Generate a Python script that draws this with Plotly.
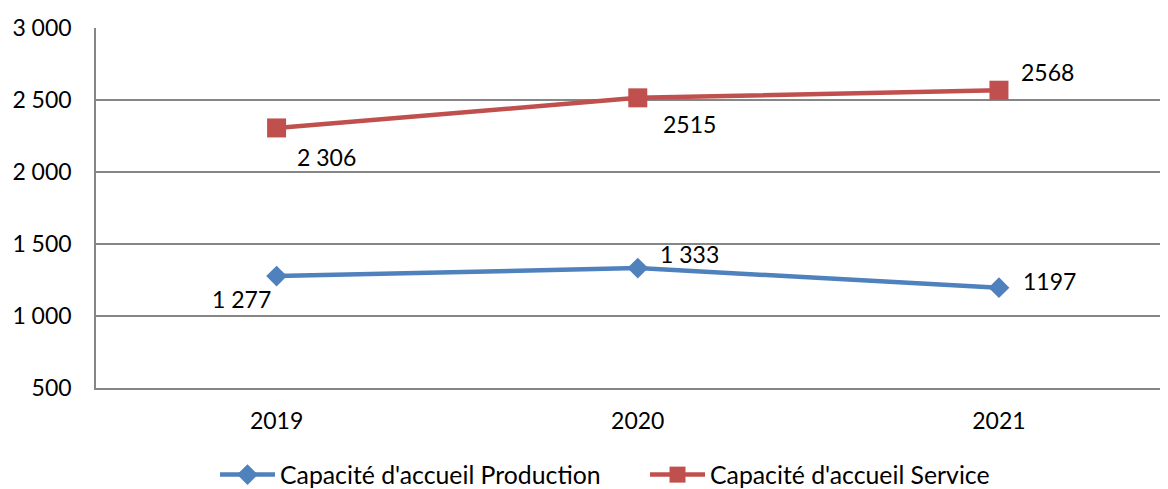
import plotly.graph_objects as go

years = ["2019", "2020", "2021"]
production = [1277, 1333, 1197]
service = [2306, 2515, 2568]
production_labels = ["1 277", "1 333", "1197"]
service_labels = ["2 306", "2515", "2568"]
y_ticks = [500, 1000, 1500, 2000, 2500, 3000]
y_ticktext = ["500", "1 000", "1 500", "2 000", "2 500", "3 000"]

BLUE = "#4F81BD"
RED = "#C0504D"
FONT = "Lato"
FS = 22

fig = go.Figure()
fig.add_trace(go.Scatter(
    x=years, y=production, mode="lines+markers",
    name="Capacité d'accueil Production",
    line=dict(color=BLUE, width=4.5),
    marker=dict(symbol="diamond", size=16, color=BLUE),
))
fig.add_trace(go.Scatter(
    x=years, y=service, mode="lines+markers",
    name="Capacité d'accueil Service",
    line=dict(color=RED, width=4.5),
    marker=dict(symbol="square", size=19, color=RED),
))

prod_offsets = [(-35, -23), (52, 14), (51, 7)]
serv_offsets = [(50, -29), (52, -26), (49, 18)]
for i, (y, t, (dx, dy)) in enumerate(zip(production, production_labels, prod_offsets)):
    fig.add_annotation(x=i, y=y, xref="x", yref="y", text=t, showarrow=False,
                       xshift=dx, yshift=dy,
                       font=dict(size=23, color="black", family=FONT))
for i, (y, t, (dx, dy)) in enumerate(zip(service, service_labels, serv_offsets)):
    fig.add_annotation(x=i, y=y, xref="x", yref="y", text=t, showarrow=False,
                       xshift=dx, yshift=dy,
                       font=dict(size=23, color="black", family=FONT))

fig.update_layout(
    width=1168, height=489,
    margin=dict(l=88, r=8, t=20, b=109),
    plot_bgcolor="white", paper_bgcolor="white",
    font=dict(family=FONT, size=FS, color="black"),
    showlegend=True,
    legend=dict(orientation="h", x=207 / 1168, xref="container", xanchor="left",
                y=(489 - 467) / 489, yref="container", yanchor="middle",
                font=dict(size=24.8), itemwidth=55, entrywidth=360, tracegroupgap=0),
    xaxis=dict(type="category", range=[-0.5, 2.468], showgrid=False, automargin=False,
               tickfont=dict(size=23),
               showline=True, linecolor="#868686", linewidth=1.5,
               ticks="", ticklabelstandoff=12),
    yaxis=dict(range=[500, 3000], tickvals=y_ticks, ticktext=y_ticktext, automargin=False,
               tickfont=dict(size=23),
               showgrid=True, gridcolor="#868686", gridwidth=1.5,
               showline=True, linecolor="#868686", linewidth=1.5,
               ticks="", ticklabelstandoff=18, zeroline=False),
)
fig.write_html("out.html")
